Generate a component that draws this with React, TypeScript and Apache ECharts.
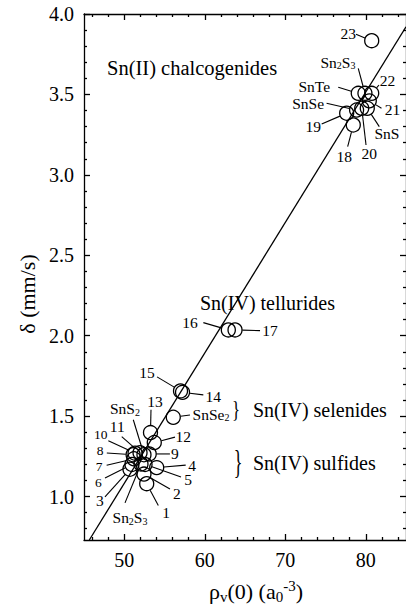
import React, { useEffect, useRef } from 'react';
import * as echarts from 'echarts';

// ---------- data ----------
const compoundNames = [
  '1', '2', '3', '4', '5', '6', '7', '8', '9', '10', '11', '12', '13', '14', '15',
  '16', '17', '18', '19', '20', '21', '22', '23',
  'SnS', 'SnSe', 'SnTe', 'Sn{s|2}S{s|3}', 'SnS{s|2}', 'SnSe{s|2}', 'Sn{s|2}S{s|3}',
];
const rhoValues = [
  52.79, 52.45, 50.71, 54.03, 52.58, 50.96, 51.2, 51.1, 53.1, 51.34, 51.96, 53.73, 53.26, 57.24, 56.99,
  62.93, 63.76, 78.45, 77.63, 79.5, 80.44, 80.74, 80.74,
  80.19, 78.86, 79.07, 79.9, 52.45, 56.09, 52.08,
];
const deltaValues = [
  1.08, 1.14, 1.17, 1.18, 1.2, 1.2, 1.235, 1.26, 1.265, 1.27, 1.273, 1.336, 1.398, 1.648, 1.657,
  2.036, 2.036, 3.31, 3.383, 3.414, 3.46, 3.507, 3.834,
  3.414, 3.403, 3.507, 3.507, 1.26, 1.493, 1.203,
];
const fitRho = [45.66, 85];
const fitDelta = [0.73, 3.92];

const xMajorTicks = [50, 60, 70, 80];
const xMinorTicks = [46, 48, 52, 54, 56, 58, 62, 64, 66, 68, 72, 74, 76, 78, 82, 84];
const yMajorTicks = [1.0, 1.5, 2.0, 2.5, 3.0, 3.5, 4.0];
const yMinorTicks = [
  0.8, 0.9, 1.1, 1.2, 1.3, 1.4, 1.6, 1.7, 1.8, 1.9, 2.1, 2.2, 2.3, 2.4,
  2.6, 2.7, 2.8, 2.9, 3.1, 3.2, 3.3, 3.4, 3.6, 3.7, 3.8, 3.9,
];

const groupTitles = ['Sn(II) chalcogenides', 'Sn(IV) tellurides', 'Sn(IV) selenides', 'Sn(IV) sulfides'];
const xTitle = 'ρ{s|v}(0) (a{s|0}{p|-3})';
const yTitle = 'δ (mm/s)';

// ---------- layout (pixel offsets of labels and leader lines from each circle) ----------
const labelOffsets: [number, number][] = [
  [19.3, 28.4], [33, 19], [-30, 31], [35.5, -2.5], [43, 15.5], [-33.7, 18.5], [-34.7, 7.5], [-33, -4.5],
  [25.7, 0], [-34.3, -18.8], [-22.7, -26], [29, -6], [4.5, -31], [30.8, 4], [-33.5, -18],
  [-38.3, -7.3], [35, 1], [-9, 31.7], [-33.4, 13.4], [7.6, 45], [23.2, 9], [15.8, -13.3], [-23.4, -7.4],
  [19.7, 25], [-48.4, -6.7], [-44, -7.3], [-27, -31], [-19, -46], [37.7, -3], [-11, 54],
];
const leaderEnds: [number, number][] = [
  [11.6, 21.7], [26, 15], [-25, 27.7], [29, -2.5], [36, 12.5], [-27, 13.5], [-27.3, 6.5], [-26.3, -1.7],
  [20.7, 0], [-26.7, -12.5], [-18.3, -16], [20.7, -5.4], [0.5, -22.7], [20.8, 2.5], [-23.5, -14],
  [-25, -7.3], [25, 0.7], [-5.6, 21.7], [-25, 10.7], [4.3, 36.7], [12.2, 7.3], [7.3, -8.3], [-15.7, -6.4],
  [12, 18.4], [-30, -6.7], [-20, -6], [-6.7, -25], [-10.7, -35], [16.7, -2.3], [-16, 39],
];
// labels in the tightly packed left column use a slightly smaller size
const compactLabels = [5, 6, 7, 9];

const FONT = '"Liberation Serif", "DejaVu Serif", serif';

const tickAxisBase = (extra: any) => ({
  type: 'value',
  splitLine: { show: false },
  axisLine: { show: false, onZero: false },
  axisLabel: { show: false },
  ...extra,
});

export default function App() {
  const ref = useRef<HTMLDivElement>(null);

  useEffect(() => {
    if (!ref.current) return;
    const chart = echarts.init(ref.current, null, { renderer: 'svg' });

    const xRange = { min: 45, max: 85 };
    const yRange = { min: 0.73, max: 4.0 };
    const lineStyle = { color: '#000', width: 1.3 };

    const xAxes = [
      tickAxisBase({
        ...xRange, position: 'bottom',
        axisLine: { show: true, onZero: false, lineStyle },
        axisTick: { show: true, inside: true, length: 6, customValues: xMajorTicks, lineStyle },
        axisLabel: {
          show: true, customValues: xMajorTicks, color: '#000', fontFamily: FONT, fontSize: 20, margin: 10,
        },
      }),
      tickAxisBase({
        ...xRange, position: 'top',
        axisLine: { show: true, onZero: false, lineStyle },
        axisTick: { show: true, inside: true, length: 6, customValues: xMajorTicks, lineStyle },
      }),
      tickAxisBase({
        ...xRange, position: 'bottom',
        axisTick: { show: true, inside: true, length: 3, customValues: xMinorTicks, lineStyle },
      }),
      tickAxisBase({
        ...xRange, position: 'top',
        axisTick: { show: true, inside: true, length: 3, customValues: xMinorTicks, lineStyle },
      }),
    ];
    const yAxes = [
      tickAxisBase({
        ...yRange, position: 'left',
        axisLine: { show: true, onZero: false, lineStyle },
        axisTick: { show: true, inside: true, length: 6, customValues: yMajorTicks, lineStyle },
        axisLabel: {
          show: true, customValues: yMajorTicks, color: '#000', fontFamily: FONT, fontSize: 20, margin: 10,
          formatter: (v: number) => v.toFixed(1),
        },
      }),
      tickAxisBase({
        ...yRange, position: 'right',
        axisLine: { show: true, onZero: false, lineStyle },
        axisTick: { show: true, inside: true, length: 6, customValues: yMajorTicks, lineStyle },
      }),
      tickAxisBase({
        ...yRange, position: 'left',
        axisTick: { show: true, inside: true, length: 3, customValues: yMinorTicks, lineStyle },
      }),
      tickAxisBase({
        ...yRange, position: 'right',
        axisTick: { show: true, inside: true, length: 3, customValues: yMinorTicks, lineStyle },
      }),
    ];

    const points = rhoValues.map((r, i) => [r, deltaValues[i]]);
    const fitLine = fitRho.map((r, i) => [r, fitDelta[i]]);

    const richSmall = (size: number) => ({
      s: { fontSize: size, lineHeight: 8, verticalAlign: 'bottom', fontFamily: FONT, fill: '#000', color: '#000' },
      p: { fontSize: size, lineHeight: 8, verticalAlign: 'top', fontFamily: FONT, fill: '#000', color: '#000' },
    });

    const textEl = (text: string, x: number, y: number, size: number, align = 'left', extra: any = {}) => ({
      type: 'text',
      x, y,
      ...extra,
      style: {
        text, fill: '#000', fontFamily: FONT, fontSize: size,
        align, verticalAlign: 'middle', textAlign: align, textVerticalAlign: 'middle',
        lineHeight: size + 4, rich: richSmall(Math.round(size * 0.68)),
      },
    });

    chart.setOption({
      animation: false,
      backgroundColor: '#fff',
      grid: { left: 84, top: 14, width: 322, height: 526 },
      xAxis: xAxes,
      yAxis: yAxes,
      series: [
        {
          type: 'line',
          data: fitLine,
          xAxisIndex: 0, yAxisIndex: 0,
          showSymbol: false,
          symbol: 'none',
          lineStyle: { color: '#000', width: 1.3 },
          silent: true,
          z: 1,
        },
        {
          type: 'custom',
          xAxisIndex: 0, yAxisIndex: 0,
          data: points,
          encode: { x: 0, y: 1 },
          z: 2,
          renderItem: (params: any, api: any) => {
            const i = params.dataIndex;
            const p = api.coord([api.value(0), api.value(1)]);
            const r = 7;
            const [lx, ly] = labelOffsets[i];
            const [fx, fy] = leaderEnds[i];
            const len = Math.hypot(fx, fy) || 1;
            const ex = (fx / len) * (r + 0.3);
            const ey = (fy / len) * (r + 0.3);
            const fs = compactLabels.includes(i) ? 13.5 : 15.5;
            return {
              type: 'group',
              children: [
                {
                  type: 'circle',
                  shape: { cx: p[0], cy: p[1], r },
                  style: { fill: 'none', stroke: '#000', lineWidth: 1.3 },
                },
                {
                  type: 'line',
                  shape: { x1: p[0] + ex, y1: p[1] + ey, x2: p[0] + fx, y2: p[1] + fy },
                  style: { stroke: '#000', lineWidth: 1.1 },
                },
                {
                  type: 'text',
                  x: p[0] + lx,
                  y: p[1] + ly,
                  style: {
                    text: compoundNames[i], fill: '#000', fontFamily: FONT, fontSize: fs,
                    align: 'center', verticalAlign: 'middle', textAlign: 'center', textVerticalAlign: 'middle',
                    lineHeight: 17, rich: richSmall(10),
                  },
                },
              ],
            };
          },
        },
      ],
      graphic: [
        textEl(groupTitles[0], 107, 68, 20.5),
        textEl(groupTitles[1], 200, 303, 20),
        textEl(groupTitles[2], 253, 410, 20),
        textEl(groupTitles[3], 253, 463, 20),
        textEl('}', 236, 409, 24, 'center', { scaleX: 0.7 }),
        textEl('}', 238, 462, 33, 'center', { scaleX: 0.55 }),
        textEl(xTitle, 256, 591, 22, 'center'),
        textEl(yTitle, 27, 294, 22, 'center', { rotation: Math.PI / 2 }),
      ],
    });

    return () => chart.dispose();
  }, []);

  return (
    <div
      ref={ref}
      style={{ position: 'fixed', left: 0, top: 0, width: 406, height: 610, background: '#fff' }}
    />
  );
}
